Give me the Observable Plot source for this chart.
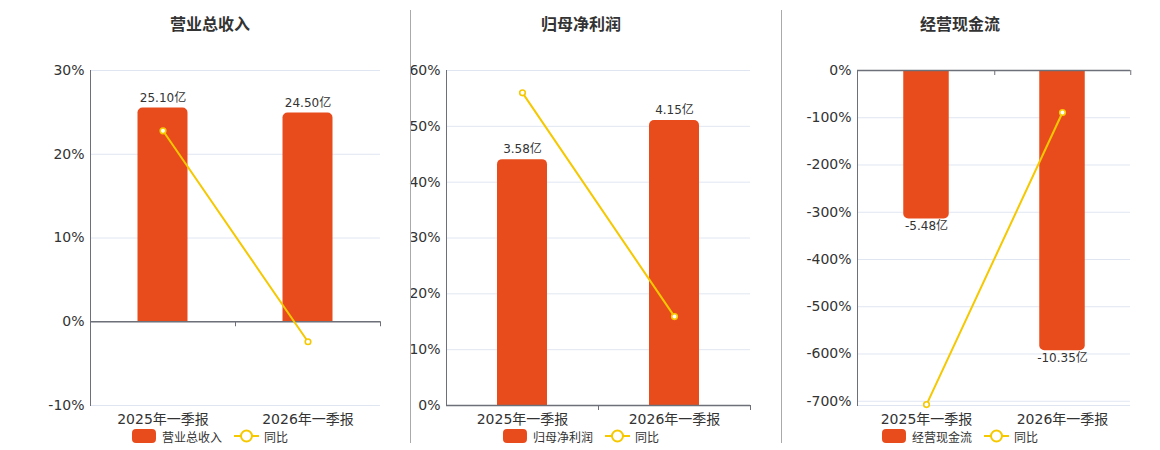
<!DOCTYPE html>
<html>
<head>
<meta charset="utf-8">
<script src="https://cdn.jsdelivr.net/npm/d3@7"></script>
<script src="https://cdn.jsdelivr.net/npm/@observablehq/plot@0.6"></script>
<style>
  body { margin: 0; background: #fff; font-family: "DejaVu Sans", "Noto Sans CJK SC", sans-serif; }
  #root { position: relative; width: 1160px; height: 450px; overflow: hidden; }
  .title { position: absolute; top: 11px; font-size: 16px; font-weight: bold; color: #333; transform: translateX(-50%); white-space: nowrap; font-family: "Noto Sans CJK SC", sans-serif; }
  .sep { position: absolute; top: 10px; height: 433px; width: 1px; background: #aaa; }
  .plot { position: absolute; top: 50px; }
  .legend { position: absolute; top: 428px; height: 16px; transform: translateX(-50%); display: flex; align-items: center; font-size: 12px; color: #333; white-space: nowrap; font-family: "Noto Sans CJK SC", sans-serif; }
  .legend .sw { width: 24px; height: 14px; border-radius: 4px; margin-right: 6px; }
  .legend svg { margin-left: 12px; margin-right: 5px; }
</style>
</head>
<body>
<div id="root"></div>
<script>
// ---- data ----
const categories = ["2025年一季报", "2026年一季报"];
const titles = ["营业总收入", "归母净利润", "经营现金流"];
const yoyLabel = "同比";
const revenue = [25.10, 24.50];
const revenueYoY = [22.8, -2.39];
const netProfit = [3.58, 4.15];
const netProfitYoY = [56.0, 15.92];
const cashFlow = [-5.48, -10.35];
const cashFlowYoY = [-707, -88.9];
const ticks1 = [-10, 0, 10, 20, 30];
const ticks2 = [0, 10, 20, 30, 40, 50, 60];
const ticks3 = [-700, -600, -500, -400, -300, -200, -100, 0];
const unit = "亿";

const barColor = "#e84c1d";
const lineColor = "#f5c800";

// ---- layout ----
const panels = [
  { title: titles[0], values: revenue, yoy: revenueYoY, ticks: ticks1, yDomain: [-10, 30], barDomainMax: 29.5,
    left: 0, width: 400, mLeft: 90, mRight: 20, barW: 50, labelDy: -10, center: 210, sep: null, neg: false },
  { title: titles[1], values: netProfit, yoy: netProfitYoY, ticks: ticks2, yDomain: [0, 60], barDomainMax: 4.878,
    left: 400, width: 370, mLeft: 46, mRight: 20, barW: 50, labelDy: -10.5, center: 581, sep: 410, neg: false },
  { title: titles[2], values: cashFlow, yoy: cashFlowYoY, ticks: ticks3, yDomain: [-709, 0], barDomainMax: -12.37,
    left: 780, width: 370, mLeft: 77, mRight: 20, barW: 46, labelDy: 7, center: 960, sep: 781, neg: true }
];

const root = document.getElementById("root");
const H = 390, mTop = 20, mBottom = 35;

panels.forEach(p => {
  const data = categories.map((c, i) => ({ cat: c, value: p.values[i], yoy: p.yoy[i] }));
  // hidden secondary axis for bars: bar value mapped so that barDomainMax aligns with the % axis end
  const axisEnd = p.neg ? p.yDomain[0] : p.yDomain[1];
  const k = axisEnd / p.barDomainMax;
  const band = (p.width - p.mLeft - p.mRight) / categories.length;
  const inset = (band - p.barW) / 2;
  const gridVals = Array.from(new Set([...p.ticks, ...p.yDomain]));

  const cornerOpts = p.neg ? { rx1y2: 5, rx2y2: 5 } : { rx1y1: 5, rx2y1: 5 };

  const chart = Plot.plot({
    width: p.width,
    height: H,
    marginLeft: p.mLeft,
    marginRight: p.mRight,
    marginTop: mTop,
    marginBottom: mBottom,
    style: { fontFamily: "DejaVu Sans, Noto Sans CJK SC, sans-serif", color: "#333", background: "transparent", overflow: "visible" },
    x: { type: "band", domain: categories, padding: 0, label: null },
    y: { domain: p.yDomain, label: null },
    marks: [
      Plot.ruleY(gridVals, { stroke: "#e0e6f1", strokeWidth: 1 }),
      Plot.barY(data, { x: "cat", y: d => d.value * k, fill: barColor, insetLeft: inset, insetRight: inset, ...cornerOpts }),
      Plot.ruleY([0], { stroke: "#6e7079", strokeWidth: 1.5 }),
      Plot.ruleX(categories, { x: d => d, dx: band / 2, y1: () => 0, y2: () => 0, insetBottom: -5, stroke: "#6e7079", strokeWidth: 1 }),
      Plot.frame({ anchor: "left", stroke: "#6e7079", strokeWidth: 1 }),
      Plot.axisY({ ticks: p.ticks, tickFormat: d => d + "%", tickSize: 0, tickPadding: 6, fontSize: 14, fill: "#333" }),
      Plot.axisX({ anchor: "bottom", tickSize: 0, tickPadding: 9, fontSize: 14, fill: "#333", fontFamily: "DejaVu Sans, Noto Sans CJK SC" }),
      Plot.text(data, { x: "cat", y: d => d.value * k, text: d => d.value.toFixed(2) + unit, dy: p.labelDy, fontSize: 12, fill: "#333" }),
      Plot.line(data, { x: "cat", y: "yoy", stroke: lineColor, strokeWidth: 2 }),
      Plot.dot(data, { x: "cat", y: "yoy", r: 2.8, fill: "#fff", stroke: lineColor, strokeWidth: 1.6 })
    ]
  });
  chart.classList.add("plot");
  chart.style.left = p.left + "px";
  root.appendChild(chart);

  const t = document.createElement("div");
  t.className = "title";
  t.style.left = p.center + "px";
  t.textContent = p.title;
  root.appendChild(t);

  if (p.sep != null) {
    const s = document.createElement("div");
    s.className = "sep";
    s.style.left = p.sep + "px";
    root.appendChild(s);
  }

  const lg = document.createElement("div");
  lg.className = "legend";
  lg.style.left = p.center + "px";
  lg.innerHTML = `<div class="sw" style="background:${barColor}"></div><span>${p.title}</span>` +
    `<svg width="25" height="14"><line x1="0" y1="7" x2="25" y2="7" stroke="${lineColor}" stroke-width="2"/><circle cx="12.5" cy="7" r="5.5" fill="#fff" stroke="${lineColor}" stroke-width="2"/></svg><span>${yoyLabel}</span>`;
  root.appendChild(lg);
});
</script>
</body>
</html>
